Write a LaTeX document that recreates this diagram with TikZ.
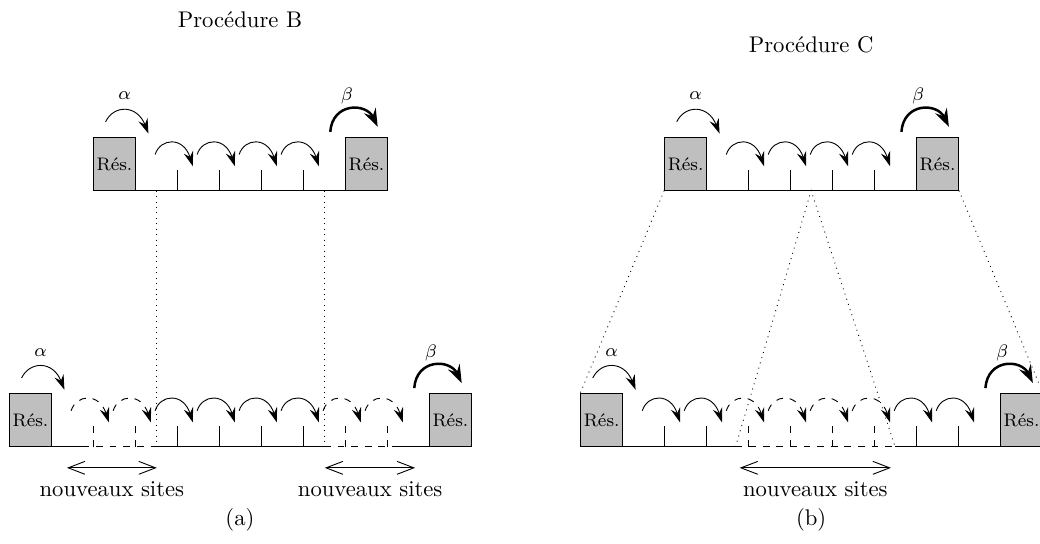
\documentclass[tikz,border=0pt]{standalone}
\usepackage{tikz}
\usepackage{amsmath}
\usetikzlibrary{arrows.meta}

\begin{document}
\begin{tikzpicture}[x=0.651cm,y=0.651cm,
        res/.style={draw, fill=black!25, anchor=south west, inner sep=0pt,
            minimum width=6.51mm, minimum height=8.14mm, font=\footnotesize},
        hop/.style={-{Stealth[length=2.3mm,width=1.5mm,inset=0.8mm]}},
        bighop/.style={line width=1.1pt, -{Stealth[length=2.8mm,width=2mm,inset=1mm]}},
        newhop/.style={hop, dashed},
        extent/.style={{Straight Barb[length=2.6mm,width=2mm]}-{Straight Barb[length=2.6mm,width=2mm]}},
        link/.style={dotted},
        lbl/.style={font=\footnotesize}]
        \useasboundingbox (-0.214,-2.31) rectangle (24.55,10.64);

        % (a) : procedure B, chaine du haut
        \begin{scope}[shift={(0,6.1)}]
            \node[res] (aTopL) at (2,0) {Rés.};
            \node[res] (aTopR) at (8,0) {Rés.};
            \draw (aTopL.south east) -- (aTopR.south west);
            \foreach \t in {4,...,7} {
                \draw (\t,0) -- (\t,0.5);
                \draw[hop] (\t-0.52,0.86) .. controls (\t-0.4,1.25) and (\t+0.15,1.3) .. (\t+0.38,0.58);
            }
            \draw[hop] (2.3,1.64) .. controls (2.5,2.05) and (3.05,2.05) .. (3.32,1.36);
            \draw[bighop] (7.65,1.4) .. controls (7.7,2.1) and (8.5,2.1) .. (8.78,1.52);
            \node[lbl] (aTopAlpha) at (2.75,2.26) {$\alpha$};
            \node[lbl] (aTopBeta) at (8.05,2.26) {$\beta$};
            \coordinate (aTopIn) at (3.5,0);
            \coordinate (aTopOut) at (7.5,0);
        \end{scope}

        % (a) : chaine du bas
        \node[res] (aBotL) at (0,0) {Rés.};
        \node[res] (aBotR) at (10,0) {Rés.};
        \coordinate (aBotIn) at (3.5,0);
        \coordinate (aBotOut) at (7.5,0);
        \draw (aBotL.south east) -- (1.75,0);
        \draw[dashed] (1.75,0) -- (aBotIn);
        \draw (aBotIn) -- (aBotOut);
        \draw[dashed] (aBotOut) -- (9.25,0);
        \draw (9.25,0) -- (aBotR.south west);
        \foreach \t in {2,3,8,9} {
            \draw[dashed] (\t,0) -- (\t,0.5);
            \draw[newhop] (\t-0.52,0.86) .. controls (\t-0.4,1.25) and (\t+0.15,1.3) .. (\t+0.38,0.58);
        }
        \foreach \t in {4,...,7} {
            \draw (\t,0) -- (\t,0.5);
            \draw[hop] (\t-0.52,0.86) .. controls (\t-0.4,1.25) and (\t+0.15,1.3) .. (\t+0.38,0.58);
        }
        \draw[hop] (0.3,1.64) .. controls (0.5,2.05) and (1.05,2.05) .. (1.32,1.36);
        \draw[bighop] (9.65,1.4) .. controls (9.7,2.1) and (10.5,2.1) .. (10.78,1.52);
        \node[lbl] (aBotAlpha) at (0.75,2.24) {$\alpha$};
        \node[lbl] (aBotBeta) at (10.05,2.24) {$\beta$};

        \draw[link] (aTopIn) -- (aBotIn);
        \draw[link] (aTopOut) -- (aBotOut);

        \coordinate (aNewL1) at (1.38,-0.5);
        \coordinate (aNewL2) at (3.52,-0.5);
        \coordinate (aNewR1) at (7.52,-0.5);
        \coordinate (aNewR2) at (9.67,-0.5);
        \draw[extent] (aNewL1) -- (aNewL2);
        \draw[extent] (aNewR1) -- (aNewR2);
        \node (aNewLText) at (2.45,-1.02) {nouveaux sites};
        \node (aNewRText) at (8.6,-1.02) {nouveaux sites};
        \node (procB) at (5.5,10.17) {Procédure B};
        \node (capA) at (5.5,-1.74) {(a)};

        % (b) : procedure C, chaine du haut
        \begin{scope}[shift={(13.6,6.1)}]
            \node[res] (bTopL) at (2,0) {Rés.};
            \node[res] (bTopR) at (8,0) {Rés.};
            \draw (bTopL.south east) -- (bTopR.south west);
            \foreach \t in {4,...,7} {
                \draw (\t,0) -- (\t,0.5);
                \draw[hop] (\t-0.52,0.86) .. controls (\t-0.4,1.25) and (\t+0.15,1.3) .. (\t+0.38,0.58);
            }
            \draw[hop] (2.3,1.64) .. controls (2.5,2.05) and (3.05,2.05) .. (3.32,1.36);
            \draw[bighop] (7.65,1.4) .. controls (7.7,2.1) and (8.5,2.1) .. (8.78,1.52);
            \node[lbl] (bTopAlpha) at (2.75,2.26) {$\alpha$};
            \node[lbl] (bTopBeta) at (8.05,2.26) {$\beta$};
            \coordinate (bTopMid) at (5.5,0);
        \end{scope}

        % (b) : chaine du bas
        \begin{scope}[shift={(13.6,0)}]
            \node[res] (bBotL) at (0,0) {Rés.};
            \node[res] (bBotR) at (10,0) {Rés.};
            \coordinate (bBotIn) at (3.7,0);
            \coordinate (bBotOut) at (7.5,0);
            \draw (bBotL.south east) -- (bBotIn);
            \draw[dashed] (bBotIn) -- (bBotOut);
            \draw (bBotOut) -- (bBotR.south west);
            \foreach \t in {2,3,8,9} {
                \draw (\t,0) -- (\t,0.5);
                \draw[hop] (\t-0.52,0.86) .. controls (\t-0.4,1.25) and (\t+0.15,1.3) .. (\t+0.38,0.58);
            }
            \foreach \t in {4,...,7} {
                \draw[dashed] (\t,0) -- (\t,0.5);
                \draw[newhop] (\t-0.52,0.86) .. controls (\t-0.4,1.25) and (\t+0.15,1.3) .. (\t+0.38,0.58);
            }
            \draw[hop] (0.3,1.64) .. controls (0.5,2.05) and (1.05,2.05) .. (1.32,1.36);
            \draw[bighop] (9.65,1.4) .. controls (9.7,2.1) and (10.5,2.1) .. (10.78,1.52);
            \node[lbl] (bBotAlpha) at (0.75,2.24) {$\alpha$};
            \node[lbl] (bBotBeta) at (10.05,2.24) {$\beta$};
            \coordinate (bNew1) at (3.8,-0.5);
            \coordinate (bNew2) at (7.4,-0.5);
            \draw[extent] (bNew1) -- (bNew2);
            \node (bNewText) at (5.6,-1.02) {nouveaux sites};
            \node (procC) at (5.5,9.57) {Procédure C};
            \node (capB) at (5.5,-1.74) {(b)};
        \end{scope}

        \draw[link] (bTopL.south west) -- (bBotL.north west);
        \draw[link] (bTopR.south east) -- (bBotR.north east);
        \draw[link] (bBotIn) -- (bTopMid) -- (bBotOut);
    \end{tikzpicture}
\end{document}
